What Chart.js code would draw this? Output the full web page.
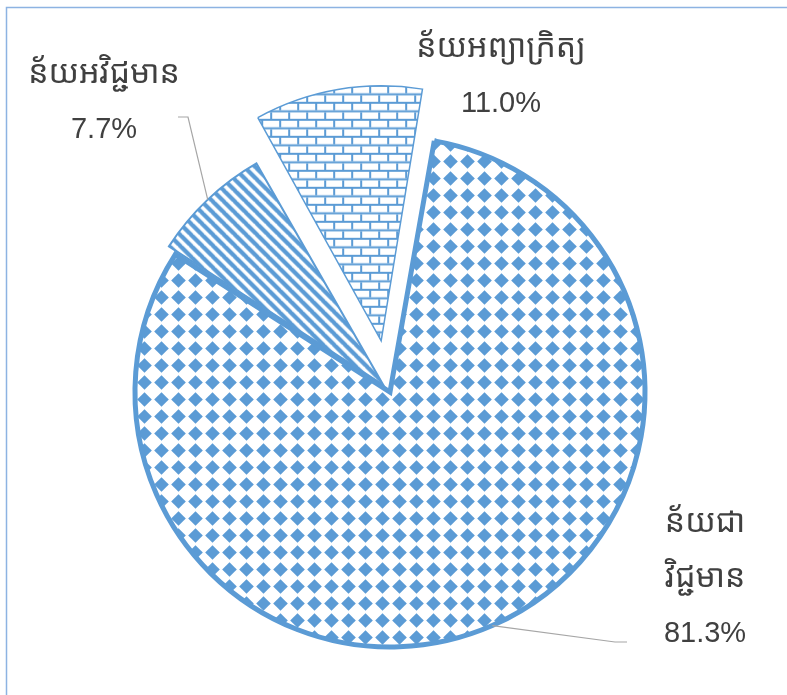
<!DOCTYPE html>
<html>
<head>
<meta charset="utf-8">
<script src="https://cdn.jsdelivr.net/npm/chart.js@4.4.1/dist/chart.umd.min.js"></script>
<style>
  html, body { margin: 0; background: #fff; }
  #wrap { width: 787px; height: 695px; }
</style>
</head>
<body>
<div id="wrap"><canvas id="pie" width="787" height="695"></canvas></div>
<script>
"use strict";

// data
const categories = [["ន័យជា", "វិជ្ជមាន"], ["ន័យអវិជ្ជមាន"], ["ន័យអព្យាក្រិត្យ"]];
const shares = [81.3, 7.7, 11.0];
const shareLabels = shares.map((v) => v.toFixed(1) + "%");

// look
const BLUE = "#5B9BD5";
const RADIUS = 255;
const explode = [0, 10, 52]; // how far each slice is pulled out, px
const labelSpots = [[315, 140], [-286, -309], [111, -335]]; // text centre / first baseline, from pie centre
const leaderBends = [[[225, 250], [237, 250]], [[-202, -275], [-212, -275]], null];
const KHMER_FONT = '32px "Noto Sans Khmer", "Khmer OS", "Noto Serif Khmer", "Liberation Sans", sans-serif';
const NUM_FONT = '29px "Liberation Sans", Arial, sans-serif';

const canvas = document.getElementById("pie");
const ctx = canvas.getContext("2d");

const makeTile = (w, h, paint) => {
  const c = document.createElement("canvas");
  c.width = w;
  c.height = h;
  const g = c.getContext("2d");
  g.fillStyle = "#fff";
  g.fillRect(0, 0, w, h);
  g.fillStyle = BLUE;
  g.strokeStyle = BLUE;
  paint(g);
  return ctx.createPattern(c, "repeat");
};

const diamonds = makeTile(17, 17, (g) => {
  g.beginPath();
  g.moveTo(8.5, 1.2);
  g.lineTo(15.8, 8.5);
  g.lineTo(8.5, 15.8);
  g.lineTo(1.2, 8.5);
  g.closePath();
  g.fill();
});

const stripes = makeTile(11, 11, (g) => {
  g.lineWidth = 4.2;
  for (let k = -1; k <= 1; k++) {
    g.beginPath();
    g.moveTo(k * 11 - 1, -1);
    g.lineTo(k * 11 + 12, 12);
    g.stroke();
  }
});

const bricks = makeTile(18, 17, (g) => {
  g.fillRect(0, 0, 18, 2);
  g.fillRect(0, 8.5, 18, 2);
  g.fillRect(0, 2, 2, 6.5);
  g.fillRect(9, 10.5, 2, 6.5);
});

// white page + the thin frame of the original
const frame = {
  id: "frame",
  beforeDraw(chart) {
    const c = chart.ctx;
    c.save();
    c.fillStyle = "#fff";
    c.fillRect(0, 0, chart.width, chart.height);
    c.strokeStyle = "#8db3e2";
    c.lineWidth = 1.5;
    c.beginPath();
    c.moveTo(6.5, chart.height);
    c.lineTo(6.5, 7.5);
    c.lineTo(chart.width, 7.5);
    c.stroke();
    c.restore();
  },
};

// Chart.js grows an offset slice; keep every slice at the same radius
const keepRadius = {
  id: "keepRadius",
  beforeDatasetsDraw(chart) {
    chart.getDatasetMeta(0).data.forEach((arc, i) => {
      const circ = arc.endAngle - arc.startAngle;
      arc.outerRadius = RADIUS - explode[i] * (1 - Math.sin(Math.min(Math.PI, circ)));
    });
  },
};

const sliceLabels = {
  id: "sliceLabels",
  afterDatasetsDraw(chart) {
    const c = chart.ctx;
    const meta = chart.getDatasetMeta(0);
    meta.data.forEach((arc, i) => {
      const mid = (arc.startAngle + arc.endAngle) / 2;
      const cx = arc.x + Math.cos(mid) * explode[i];
      const cy = arc.y + Math.sin(mid) * explode[i];
      const ex = cx + Math.cos(mid) * RADIUS;
      const ey = cy + Math.sin(mid) * RADIUS;

      c.save();
      if (leaderBends[i]) {
        c.strokeStyle = "#a6a6a6";
        c.lineWidth = 1.2;
        c.beginPath();
        c.moveTo(ex, ey);
        leaderBends[i].forEach(([dx, dy]) => c.lineTo(arc.x + dx, arc.y + dy));
        c.stroke();
      }

      const [dx, dy] = labelSpots[i];
      const lines = [].concat(chart.data.labels[i]);
      c.fillStyle = "#404040";
      c.textAlign = "center";
      c.textBaseline = "alphabetic";
      let y = arc.y + dy;
      lines.forEach((t) => {
        c.font = KHMER_FONT;
        c.fillText(t, arc.x + dx, y);
        y += 55;
      });
      c.font = NUM_FONT;
      c.fillText(shareLabels[i], arc.x + dx, y);
      c.restore();
    });
  },
};

new Chart(ctx, {
  type: "pie",
  data: {
    labels: categories,
    datasets: [
      {
        data: shares,
        backgroundColor: [diamonds, stripes, bricks],
        borderColor: BLUE,
        borderWidth: [5, 2, 1.5],
        borderJoinStyle: "miter",
        offset: explode.map((o) => o * 4),
        radius: RADIUS,
      },
    ],
  },
  options: {
    responsive: false,
    devicePixelRatio: 1,
    animation: false,
    events: [],
    rotation: 10,
    layout: {
      padding: { left: 100, right: 107, top: 100, bottom: 11 },
    },
    plugins: {
      legend: { display: false },
      tooltip: { enabled: false },
      title: { display: false },
    },
  },
  plugins: [frame, keepRadius, sliceLabels],
});
</script>
</body>
</html>
